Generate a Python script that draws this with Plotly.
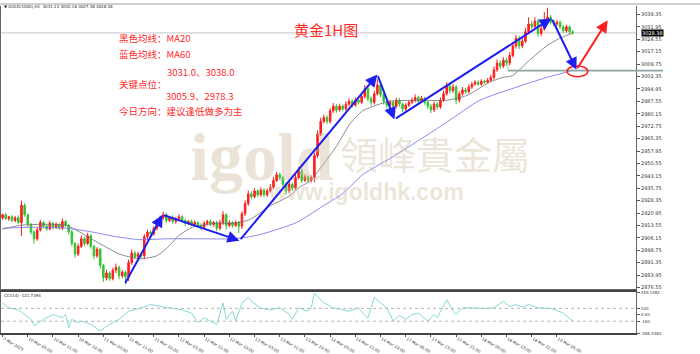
import plotly.graph_objects as go

# ---------------- data ----------------
first_open = 2918.0
close_prices = [
    2919.9, 2917.6, 2918.7, 2916.5, 2918.2, 2915.3, 2925.6, 2919.9, 2914.2, 2909.6,
    2905.6, 2910.8, 2915.3, 2913.1, 2911.4, 2914.8, 2912.5, 2914.2, 2911.9, 2915.9,
    2913.6, 2909.6, 2902.8, 2896.5, 2901.1, 2905.6, 2902.8, 2907.4, 2901.1, 2895.4,
    2899.4, 2889.7, 2882.3, 2885.2, 2881.8, 2886.9, 2888.6, 2883.5, 2885.7, 2882.9,
    2891.4, 2897.1, 2894.8, 2896.5, 2895.4, 2906.8, 2909.6, 2908.5, 2911.9, 2915.3,
    2918.2, 2919.9, 2916.5, 2918.2, 2915.9, 2917.6, 2918.7, 2916.5, 2914.8, 2915.9,
    2914.2, 2915.3, 2913.6, 2912.5, 2914.8, 2915.9, 2914.2, 2915.3, 2911.9, 2915.3,
    2919.9, 2913.6, 2915.3, 2913.6, 2915.3, 2913.1, 2920.5, 2926.7, 2932.4, 2930.7,
    2934.1, 2931.8, 2934.7, 2931.8, 2934.1, 2936.4, 2940.4, 2943.8, 2942.1, 2938.1,
    2934.1, 2938.1, 2935.8, 2942.1, 2946.1, 2940.4, 2942.6, 2940.4, 2942.1, 2955.2,
    2968.2, 2975.6, 2977.9, 2975.6, 2981.9, 2984.7, 2982.5, 2984.7, 2983.0, 2985.9,
    2987.6, 2985.3, 2988.2, 2987.0, 2990.4, 2995.0, 2989.3, 2987.0, 2992.1, 2997.3,
    2991.6, 2987.6, 2985.3, 2987.0, 2984.7, 2988.2, 2985.9, 2983.0, 2985.3, 2987.0,
    2988.2, 2989.9, 2987.6, 2989.3, 2987.0, 2984.7, 2982.5, 2985.9, 2984.2, 2988.2,
    2992.1, 2996.7, 2993.9, 2996.1, 2988.2, 2992.1, 2994.4, 2993.3, 2996.1, 2997.8,
    2999.0, 2997.8, 2999.5, 2999.0, 3000.1, 3001.8, 3006.4, 3010.4, 3008.6, 3012.1,
    3010.4, 3014.9, 3020.6, 3025.1, 3020.6, 3023.4, 3029.1, 3033.7, 3032.0, 3035.4,
    3028.0, 3030.8, 3034.8, 3037.7, 3034.8, 3033.7, 3034.8, 3032.0, 3029.7, 3032.0,
    3029.1, 3028.38,
]
upper_wick = [
    0.8, 1.2, 0.6, 1.0, 0.9, 1.4, 2.8, 1.1, 0.7, 0.9,
    1.0, 1.3, 1.6, 0.8, 1.1, 1.5, 0.9, 1.2, 0.7, 1.8,
    1.0, 0.8, 1.2, 0.9, 1.6, 2.0, 1.1, 1.7, 0.9, 1.0,
    1.3, 0.8, 1.0, 1.9, 1.1, 1.4, 2.2, 0.9, 1.5, 1.0,
    1.8, 2.1, 1.2, 1.5, 0.9, 1.6, 1.4, 1.0, 1.2, 1.7,
    1.3, 1.9, 1.2, 1.0, 1.4, 1.1, 1.6, 0.9, 1.2, 1.0,
    1.1, 1.4, 0.8, 1.2, 1.5, 1.0, 1.3, 0.9, 1.1, 1.6,
    2.2, 1.0, 1.3, 0.9, 1.2, 1.0, 1.5, 1.8, 2.0, 1.4,
    1.6, 1.1, 1.7, 1.0, 1.5, 1.8, 2.0, 1.7, 1.2, 1.0,
    1.3, 1.6, 1.0, 2.1, 2.4, 1.2, 1.5, 1.0, 1.3, 1.8,
    2.0, 2.2, 1.8, 1.3, 1.6, 1.9, 1.2, 1.5, 1.1, 1.7,
    1.8, 1.2, 1.6, 1.0, 1.9, 2.3, 1.4, 1.1, 1.8, 3.4,
    1.5, 1.2, 1.0, 1.4, 1.1, 1.6, 1.3, 0.9, 1.2, 1.4,
    1.5, 1.8, 1.1, 1.4, 1.0, 0.9, 1.2, 1.5, 1.1, 1.7,
    2.0, 2.3, 1.6, 1.8, 1.2, 1.5, 1.7, 1.3, 1.6, 1.4,
    1.2, 1.0, 1.3, 1.1, 1.4, 1.6, 2.0, 2.2, 1.5, 1.8,
    1.4, 2.0, 2.4, 2.1, 1.6, 1.9, 2.3, 4.0, 1.8, 2.3,
    1.5, 1.7, 6.0, 5.7, 1.4, 1.2, 1.3, 1.0, 1.1, 1.2,
    0.9, 0.8,
]
lower_wick = [
    1.0, 0.8, 1.3, 0.9, 1.1, 0.7, 8.0, 1.2, 1.4, 1.5,
    2.9, 1.2, 0.9, 1.3, 1.0, 0.8, 1.4, 1.1, 0.9, 1.2,
    1.0, 1.5, 1.8, 2.2, 1.3, 1.1, 1.6, 1.0, 1.4, 2.0,
    1.2, 1.8, 2.4, 1.5, 1.3, 1.0, 1.7, 2.0, 1.4, 4.6,
    2.5, 1.4, 1.1, 1.6, 1.3, 2.0, 1.5, 1.2, 1.0, 1.4,
    1.1, 1.3, 1.5, 1.0, 1.2, 1.4, 0.9, 1.1, 1.6, 1.0,
    1.2, 0.9, 1.4, 1.8, 1.0, 1.3, 1.1, 1.5, 1.9, 1.2,
    1.4, 2.5, 1.1, 1.3, 1.0, 4.0, 1.6, 1.2, 1.4, 1.5,
    1.1, 1.3, 1.0, 1.4, 1.2, 1.0, 1.3, 1.1, 1.6, 1.8,
    2.2, 1.3, 1.5, 1.0, 1.2, 1.6, 1.1, 1.4, 1.2, 2.8,
    1.5, 1.3, 1.1, 1.6, 1.4, 1.2, 1.7, 1.0, 1.3, 1.2,
    1.1, 1.5, 1.0, 1.3, 1.1, 1.2, 1.8, 2.0, 1.3, 1.1,
    1.6, 1.9, 2.1, 1.3, 2.5, 1.2, 1.6, 1.8, 1.4, 1.1,
    1.0, 1.2, 1.4, 1.1, 1.5, 1.7, 2.0, 1.3, 1.5, 1.2,
    1.0, 1.1, 1.5, 1.2, 2.4, 1.4, 1.1, 1.3, 1.0, 1.2,
    0.9, 1.1, 1.0, 1.2, 0.8, 1.0, 1.3, 1.4, 1.6, 1.2,
    1.5, 1.3, 1.2, 1.6, 2.0, 1.4, 1.2, 1.1, 1.5, 1.3,
    2.0, 1.6, 1.2, 1.1, 1.4, 1.3, 1.2, 1.5, 1.4, 1.1,
    1.3, 1.0,
]

ma20_bar = [0, 5.4, 11.7, 20.3, 28.6, 37.1, 43.5, 48.9, 52.1, 56.2, 60.3, 68, 73, 78.4,
            84.8, 91.1, 94.3, 97.5, 101.6, 106, 110.2, 114.3, 118.7, 122.9, 130.2, 141,
            147.3, 154.6, 158.7, 161.9, 167.3, 172.7, 176.8, 180.7]
ma20_val = [2911.3, 2913.6, 2914.2, 2913.6, 2905.1, 2896.5, 2893.7, 2895.4, 2899.9, 2907.9,
            2912.5, 2914.8, 2914.8, 2917.0, 2925.0, 2931.2, 2936.4, 2939.8, 2949.5, 2960.8,
            2973.9, 2981.9, 2985.3, 2987.6, 2988.2, 2988.2, 2991.0, 2998.9, 3001.8, 3002.9,
            3012.1, 3020.6, 3025.1, 3028.0]

ma60_bar = [0, 9.5, 20.3, 28.6, 36.2, 43.5, 52.1, 62.5, 73, 78.4, 82.5, 93.3, 101.6, 107.9,
            114.3, 122.9, 126, 141, 151.4, 162.5, 172.7, 179.4, 181]
ma60_val = [2911.9, 2912.5, 2911.9, 2909.6, 2906.8, 2905.1, 2905.6, 2905.6, 2905.6, 2906.8,
            2908.5, 2915.3, 2925.0, 2932.4, 2943.8, 2953.4, 2956.9, 2975.1, 2988.1, 2995.6,
            3001.8, 3005.2, 3006.4]

cci_bar = [0, 2, 5, 9, 10, 13, 16, 19, 20, 21, 22, 24, 25, 28, 31, 34, 37, 40, 44, 47, 50,
           54, 57, 60, 62, 64, 66, 68, 70, 71, 73, 74, 76, 78, 79, 82, 85, 88, 91, 92, 94,
           97, 98, 99, 102, 105, 108, 110, 113, 115, 116, 118, 120, 122, 124, 126, 128, 130,
           132, 135, 137, 138, 141, 143, 144, 146, 148, 152, 156, 159, 161, 163, 165, 167,
           170, 171, 174, 176, 178, 181]
cci_val = [185, 108, 77, -72, -170, -72, 5, -46, 5, -200, -72, -123, -97, -149, -251, -149,
           -72, 56, 108, 159, 133, 100, 77, 25, -123, -46, -97, -149, 185, -72, 56, -97, 185,
           272, 210, 100, 77, 108, 5, -72, 108, 56, 108, 339, 185, 108, 77, 56, 108, -10, -46,
           272, 185, 108, -97, -10, -72, 5, 25, -97, 5, -46, 236, 56, 5, 108, 108, 100, 108,
           210, 133, 159, 118, 159, 108, 108, 100, 67, 25, -97]

label_bars = [0, 8, 16, 24, 32, 40, 48, 56, 64, 72, 80, 88, 96, 104, 112, 120, 128, 136,
              144, 152, 160, 168, 176]
time_labels = ["7 Mar 2025", "10 Mar 03:00", "10 Mar 11:00", "10 Mar 19:00", "11 Mar 03:00",
               "11 Mar 11:00", "11 Mar 19:00", "12 Mar 03:00", "12 Mar 11:00", "12 Mar 19:00",
               "13 Mar 03:00", "13 Mar 11:00", "13 Mar 19:00", "14 Mar 03:00", "14 Mar 11:00",
               "14 Mar 19:00", "17 Mar 05:00", "17 Mar 13:00", "17 Mar 21:00", "18 Mar 05:00",
               "18 Mar 13:00", "18 Mar 21:00", "19 Mar 05:00"]

price_ticks = [3039.35, 3031.95, 3024.55, 3017.15, 3009.75, 3002.35, 2994.95, 2987.55,
               2980.15, 2972.75, 2965.35, 2957.95, 2950.55, 2943.15, 2935.75, 2928.35,
               2920.95, 2913.55, 2906.15, 2898.75, 2891.35, 2883.95, 2876.55]
cci_ticks = [349.1482, 100, 0, -100, -288.4383]
cci_tick_text = ["349.1482", "100", "0.00", "-100", "-288.4383"]

current_price = 3028.38
key_level = 3005.9

blue_path_bar = [38.7, 50.8, 75.2, 119.0, 124.4, 174.3, 182.2]
blue_path_price = [2878.3, 2919.9, 2904.5, 3003.5, 2976.8, 3037.1, 3006.4]
red_arrow_bar = [182.2, 192.1]
red_arrow_price = [3006.4, 3035.9]

# ---------------- derived ----------------
bars = list(range(len(close_prices)))
opens = [first_open] + close_prices[:-1]
highs = [max(o, c) + u for o, c, u in zip(opens, close_prices, upper_wick)]
lows = [min(o, c) - l for o, c, l in zip(opens, close_prices, lower_wick)]

RED = "#ff1e1e"
GREEN = "#33c433"
BLUE = "#1e1ef0"
TXT = "#ff2a2a"
CJK = "Noto Sans CJK SC"

fig = go.Figure()
fig.add_trace(go.Candlestick(
    x=bars, open=opens, high=highs, low=lows, close=close_prices,
    increasing=dict(line=dict(color=RED, width=1), fillcolor=RED),
    decreasing=dict(line=dict(color=GREEN, width=1), fillcolor=GREEN),
    whiskerwidth=0, xaxis="x", yaxis="y", showlegend=False, hoverinfo="skip"))
fig.add_trace(go.Scatter(x=ma20_bar, y=ma20_val, mode="lines",
                         line=dict(color="#6e6e6e", width=0.8, shape="spline", smoothing=0.6),
                         xaxis="x", yaxis="y", showlegend=False, hoverinfo="skip"))
fig.add_trace(go.Scatter(x=ma60_bar, y=ma60_val, mode="lines",
                         line=dict(color="#7a7af0", width=0.9, shape="spline", smoothing=0.6),
                         xaxis="x", yaxis="y", showlegend=False, hoverinfo="skip"))
fig.add_trace(go.Scatter(x=cci_bar, y=cci_val, mode="lines",
                         line=dict(color="#86d9d2", width=1),
                         xaxis="x2", yaxis="y2", showlegend=False, hoverinfo="skip"))

W, H, L, R = 700, 354, 1, 64
PW = W - L - R


def px(X):
    return (X - L) / PW


def py(Y):
    return 1 - Y / H


annotations = []
# watermark
wm = "rgba(205,186,155,0.40)"
annotations.append(dict(x=px(336), y=py(161), xref="paper", yref="paper", xanchor="right",
                        yanchor="middle", text="<b>igold</b>", showarrow=False,
                        font=dict(family="Liberation Serif", size=68, color=wm)))
annotations.append(dict(x=px(338), y=py(157), xref="paper", yref="paper", xanchor="left",
                        yanchor="middle", text="領峰貴金屬", showarrow=False,
                        font=dict(family="Noto Sans CJK TC", size=38, color=wm)))
annotations.append(dict(x=px(366), y=py(198), xref="paper", yref="paper", xanchor="center",
                        yanchor="middle", text="<b>www.igoldhk.com</b>", showarrow=False,
                        font=dict(family="Liberation Sans", size=23, color=wm)))

# header texts
annotations.append(dict(x=px(2), y=py(4), xref="paper", yref="paper", xanchor="left", yanchor="middle",
                        text="▼ GOLD(1000),H1  3031.13 3032.16 3027.38 3028.38", showarrow=False,
                        font=dict(family="DejaVu Sans", size=4, color="#222")))
annotations.append(dict(x=px(2), y=py(306), xref="paper", yref="paper", xanchor="left", yanchor="middle",
                        text="CCI(14) -121.7394", showarrow=False,
                        font=dict(family="DejaVu Sans", size=4, color="#222")))
# title
annotations.append(dict(x=px(326), y=py(15), xref="paper", yref="paper", text="黄金1H图",
                        showarrow=False, font=dict(family=CJK, size=15, color=TXT)))
# notes
notes = [
    (117, 37, "黑色均线：MA20"),
    (117, 53, "蓝色均线：MA60"),
    (165, 72, "3031.0、3038.0"),
    (117, 85, "关键点位："),
    (164, 97, "3005.9、2978.3"),
    (117, 113, "今日方向：建议逢低做多为主"),
]
for X, Y, t in notes:
    annotations.append(dict(x=px(X), y=py(Y), xref="paper", yref="paper", xanchor="left",
                            yanchor="middle", text=t, showarrow=False,
                            font=dict(family=CJK, size=9.5, color=TXT)))

# current price tag
annotations.append(dict(x=px(641), y=current_price, xref="paper", yref="y", xanchor="left",
                        yanchor="middle", text="3028.38", showarrow=False, bgcolor="#000",
                        borderpad=0, font=dict(family="DejaVu Sans", size=5, color="#fff")))

# blue zig-zag arrows
for i in range(len(blue_path_bar) - 1):
    annotations.append(dict(x=blue_path_bar[i + 1], y=blue_path_price[i + 1],
                            ax=blue_path_bar[i], ay=blue_path_price[i],
                            xref="x", yref="y", axref="x", ayref="y", text="",
                            showarrow=True, arrowhead=2, arrowsize=1.2, arrowwidth=2,
                            arrowcolor=BLUE))
annotations.append(dict(x=red_arrow_bar[1], y=red_arrow_price[1],
                        ax=red_arrow_bar[0], ay=red_arrow_price[0],
                        xref="x", yref="y", axref="x", ayref="y", text="",
                        showarrow=True, arrowhead=2, arrowsize=1.2, arrowwidth=2,
                        arrowcolor=RED))

shapes = [
    # top gray band
    dict(type="rect", xref="paper", yref="paper", x0=px(0), x1=px(700), y0=py(2), y1=1,
         fillcolor="#cfcfcf", line=dict(width=0), layer="above"),
    # current price line
    dict(type="line", xref="paper", yref="y", x0=0, x1=1, y0=current_price, y1=current_price,
         line=dict(color="#c8c8c8", width=1), layer="below"),
    # key level line
    dict(type="line", xref="paper", yref="y", x0=px(508), x1=px(663), y0=key_level, y1=key_level,
         line=dict(color="#8ea4a4", width=1.6)),
    dict(type="line", xref="paper", yref="y", x0=px(508), x1=px(508), y0=key_level, y1=3012.3,
         line=dict(color="#8fd88f", width=1)),
    # ellipse
    dict(type="circle", xref="x", yref="y", x0=179.2, x1=185.8, y0=3002.3, y1=3008.7,
         line=dict(color=RED, width=1.5)),
    # CCI levels
    dict(type="line", xref="paper", yref="y2", x0=0, x1=1, y0=100, y1=100,
         line=dict(color="#b4b4b4", width=1, dash="dot")),
    dict(type="line", xref="paper", yref="y2", x0=0, x1=1, y0=-100, y1=-100,
         line=dict(color="#b4b4b4", width=1, dash="dot")),
]

axis_line = "#666666"
fig.update_layout(
    width=W, height=H, margin=dict(l=L, r=R, t=0, b=0),
    paper_bgcolor="white", plot_bgcolor="white", showlegend=False,
    annotations=annotations, shapes=shapes,
    xaxis=dict(domain=[0, 1], range=[-0.5, 201.1], anchor="y", showticklabels=False,
               ticks="", showgrid=False, zeroline=False, showline=True, linecolor=axis_line,
               linewidth=1, rangeslider=dict(visible=False)),
    yaxis=dict(domain=[py(300), py(3)], range=[2875.4, 3044.5], side="right", anchor="x",
               tickvals=price_ticks, ticktext=["%.2f" % v for v in price_ticks],
               ticks="outside", ticklen=3, tickcolor="#555",
               tickfont=dict(family="DejaVu Sans", size=5, color="#333"),
               showgrid=False, zeroline=False, showline=True, mirror=True,
               linecolor=axis_line, linewidth=1),
    xaxis2=dict(domain=[0, 1], range=[-0.5, 201.1], anchor="y2", matches="x",
                tickvals=label_bars, ticktext=time_labels, ticklabelposition="outside right",
                ticks="outside", ticklen=2, tickcolor="#555",
                tickfont=dict(family="DejaVu Sans", size=4, color="#333"),
                showgrid=False, zeroline=False, showline=True, mirror=True,
                linecolor="#444", linewidth=1.5),
    yaxis2=dict(domain=[py(346), py(303)], range=[-289.5, 350.2], side="right", anchor="x2",
                tickvals=cci_ticks, ticktext=cci_tick_text,
                ticks="outside", ticklen=3, tickcolor="#555",
                tickfont=dict(family="DejaVu Sans", size=4, color="#333"),
                showgrid=False, zeroline=False, showline=True, mirror=True,
                linecolor=axis_line, linewidth=1),
)

fig.write_html("out.html")
